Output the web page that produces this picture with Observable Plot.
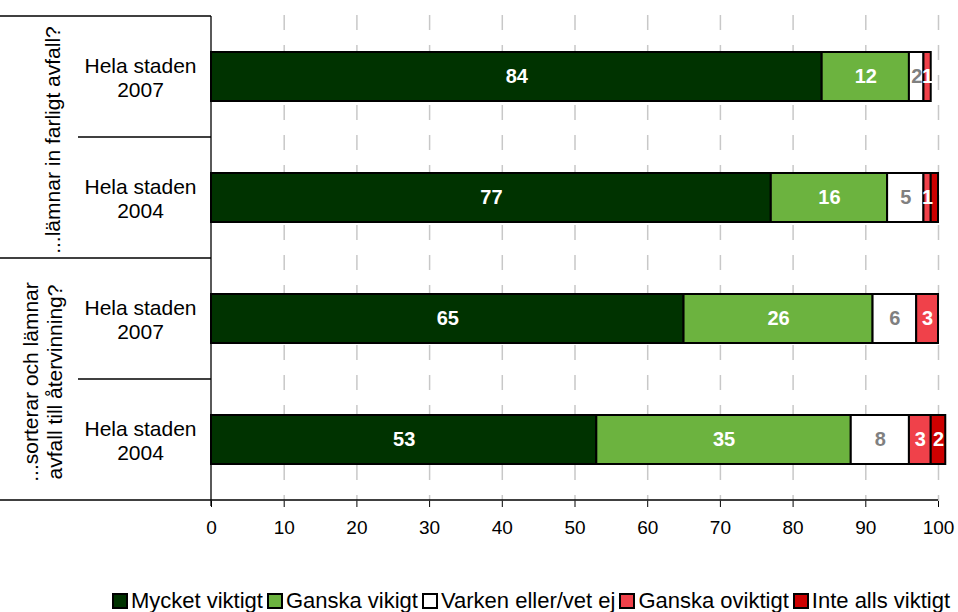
<!DOCTYPE html>
<html>
<head>
<meta charset="utf-8">
<script src="https://cdn.jsdelivr.net/npm/d3@7"></script>
<script src="https://cdn.jsdelivr.net/npm/@observablehq/plot@0.6"></script>
<style>
  body { margin: 0; background: #fff; font-family: "Liberation Sans", Arial, sans-serif; }
  #legend { display: flex; justify-content: flex-end; align-items: center; height: 22px; padding-right: 8px; font-size: 22px; color: #000; white-space: nowrap; }
  #legend .item { display: flex; align-items: center; margin-left: 4px; }
  #legend .sw { width: 12px; height: 12px; border: 2px solid #000; margin-right: 3px; }
</style>
</head>
<body>
<div id="chart"></div>
<div id="legend"></div>
<script>
const rows = ["farligt-2007", "farligt-2004", "sort-2007", "sort-2004"];
const rowYears = ["2007", "2004", "2007", "2004"];
const categories = ["Mycket viktigt", "Ganska vikigt", "Varken eller/vet ej", "Ganska oviktigt", "Inte alls viktigt"];
const colors = ["#003300", "#6cb33f", "#ffffff", "#f0414a", "#cc0000"];
const mycket = [84, 77, 65, 53];
const ganska = [12, 16, 26, 35];
const varken = [2, 5, 6, 8];
const oviktigt = [1, 1, 3, 3];
const inteAlls = [0, 1, 0, 2];
const groups = [
  { label: ["...lämnar in farligt avfall?"], rows: [0, 1] },
  { label: ["...sorterar och lämnar", "avfall till återvinning?"], rows: [2, 3] }
];
const xTicks = [0, 10, 20, 30, 40, 50, 60, 70, 80, 90, 100];

const series = [mycket, ganska, varken, oviktigt, inteAlls];
const data = [];
rows.forEach((r, i) => {
  categories.forEach((c, j) => data.push({ row: r, cat: c, value: series[j][i] }));
});

const font = "Liberation Sans, Arial, sans-serif";

// a segment label is hidden when the segment is too narrow and its neighbour already carries a label
const showLabel = d => d.value > 0 && !(d.cat === "Inte alls viktigt" && d.value < 2);

const plot = Plot.plot({
  width: 958,
  height: 590,
  marginLeft: 211,
  marginRight: 20,
  marginTop: 15,
  marginBottom: 89,
  style: { fontFamily: font, fontSize: "19px", color: "#000", background: "#fff" },
  x: { domain: [0, 100], label: null },
  y: { domain: rows, padding: 0, axis: null },
  color: { domain: categories, range: colors },
  marks: [
    Plot.ruleX(xTicks.slice(1), { stroke: "#c8c8c8", strokeWidth: 1.5, strokeDasharray: "15,15" }),
    Plot.barX(data, { x: "value", y: "row", fill: "cat", stroke: "#000", strokeWidth: 2, insetTop: 36, insetBottom: 36 }),
    Plot.text(data, Plot.stackX({
      x: "value", y: "row", z: "cat",
      text: d => showLabel(d) ? String(d.value) : "",
      fill: d => d.cat === "Varken eller/vet ej" ? "#808080" : "#ffffff",
      fontWeight: "bold", fontSize: 20
    })),
    Plot.text(rows, {
      y: d => d, text: (d, i) => "Hela staden\n" + rowYears[i],
      frameAnchor: "left", dx: -71, textAnchor: "middle", fontSize: 21, lineHeight: 1.15, fill: "#000"
    }),
    Plot.axisX({ ticks: xTicks, tickSize: 6, tickPadding: 13, fontSize: 19, label: null, stroke: "#000" })
  ]
});

document.getElementById("chart").appendChild(plot);

// Table frame lines and group labels
const svg = d3.select(plot);
const yScale = plot.scale("y");
const bw = yScale.bandwidth;
const x0 = 211, xEnd = 938;
const yTop = yScale.apply(rows[0]);
const yBottom = yScale.apply(rows[rows.length - 1]) + bw;
const g = svg.append("g").attr("stroke", "#000").attr("stroke-width", 1.3);
g.append("line").attr("x1", 0).attr("x2", xEnd).attr("y1", yBottom).attr("y2", yBottom);
g.append("line").attr("x1", x0).attr("x2", x0).attr("y1", yTop).attr("y2", yBottom + 6);
groups.forEach(gr => {
  const ys = yScale.apply(rows[gr.rows[0]]);
  g.append("line").attr("x1", 0).attr("x2", x0).attr("y1", ys).attr("y2", ys);
  gr.rows.slice(1).forEach(ri => {
    const yy = yScale.apply(rows[ri]);
    g.append("line").attr("x1", 78).attr("x2", x0).attr("y1", yy).attr("y2", yy);
  });
  const ye = yScale.apply(rows[gr.rows[gr.rows.length - 1]]) + bw;
  const cy = (ys + ye) / 2 + 3;
  const n = gr.label.length;
  gr.label.forEach((t, k) => {
    const cx = n === 1 ? 52 : 30 + k * 24;
    svg.append("text")
      .attr("transform", `translate(${cx},${cy}) rotate(-90)`)
      .attr("text-anchor", "middle")
      .attr("dominant-baseline", "central")
      .attr("font-family", font)
      .attr("font-size", 21)
      .attr("fill", "#000")
      .text(t);
  });
});

// Legend
const legend = d3.select("#legend");
categories.forEach((c, i) => {
  const it = legend.append("div").attr("class", "item");
  it.append("div").attr("class", "sw").style("background", colors[i]);
  it.append("span").text(c);
});
</script>
</body>
</html>
